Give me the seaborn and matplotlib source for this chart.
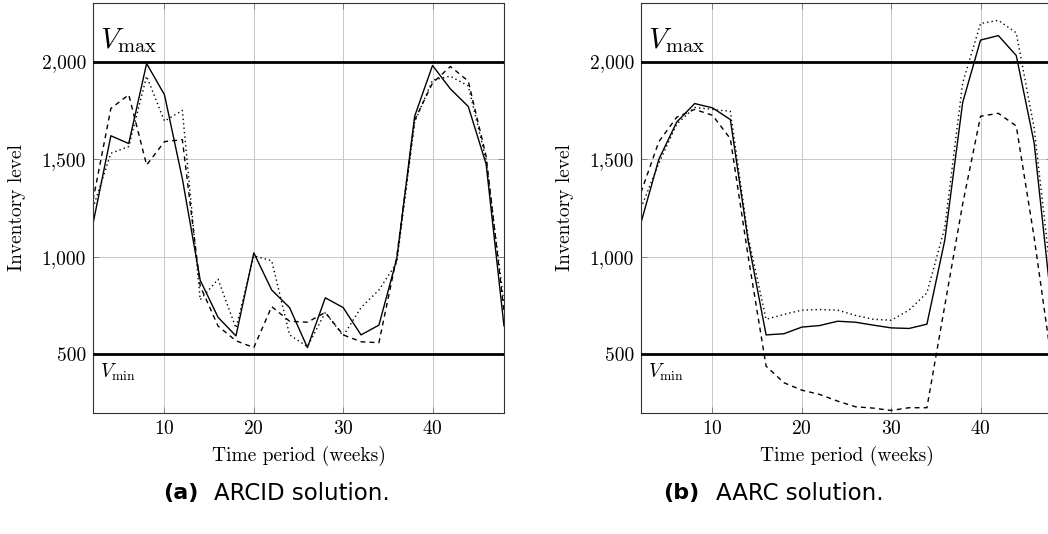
import matplotlib
matplotlib.use('Agg')
import matplotlib.pyplot as plt
import numpy as np
import pandas as pd
import seaborn as sns
from matplotlib.ticker import StrMethodFormatter

weeks = list(range(2, 49, 2))

# (a) ARCID solution
arcid_solid = [1170, 1620, 1580, 1990, 1830, 1400, 880, 690, 595, 1020, 830, 740,
               535, 790, 740, 600, 650, 990, 1720, 1980, 1860, 1770, 1475, 645]
arcid_dashed = [1290, 1760, 1830, 1470, 1590, 1600, 850, 645, 570, 535, 745, 670,
                665, 715, 600, 565, 560, 1000, 1700, 1890, 1975, 1900, 1515, 720]
arcid_dotted = [1250, 1530, 1565, 1925, 1695, 1750, 780, 885, 635, 1005, 980, 600,
                540, 715, 595, 740, 830, 970, 1690, 1905, 1925, 1875, 1495, 760]

# (b) AARC solution
aarc_solid = [1175, 1500, 1690, 1785, 1763, 1703, 1080, 600, 606, 640, 648, 670,
              665, 650, 636, 633, 655, 1085, 1790, 2110, 2133, 2031, 1584, 730]
aarc_dashed = [1330, 1590, 1715, 1755, 1725, 1605, 1000, 440, 355, 317, 295, 261,
               232, 225, 213, 227, 227, 750, 1270, 1720, 1735, 1670, 1100, 450]
aarc_dotted = [1250, 1480, 1680, 1765, 1755, 1745, 1100, 680, 705, 727, 730, 727,
               700, 680, 675, 727, 815, 1150, 1890, 2195, 2211, 2147, 1660, 850]

v_max = 2000
v_min = 500
y_ticks = [500, 1000, 1500, 2000]
x_ticks = [10, 20, 30, 40]

sns.set_style('ticks')
plt.rcParams['font.family'] = ['cmr10', 'DejaVu Serif']
plt.rcParams['mathtext.fontset'] = 'cm'
plt.rcParams['axes.formatter.use_mathtext'] = True
plt.rcParams['text.color'] = 'black'
plt.rcParams['axes.labelcolor'] = 'black'

fig = plt.figure(figsize=(10.48, 5.34), dpi=100)
ax_a = fig.add_axes([93 / 1048, 1 - 413 / 534, 411 / 1048, 410 / 534])
ax_b = fig.add_axes([641 / 1048, 1 - 413 / 534, 411 / 1048, 410 / 534])

styles = ['-', (0, (3.5, 3)), (0, (1, 2.2))]

def draw(ax, series):
    for vals, ls in zip(series, styles):
        sns.lineplot(x=weeks, y=vals, color='black', linestyle=ls, linewidth=1.0, ax=ax)
    ax.axhline(v_max, color='black', linewidth=2.0, zorder=3)
    ax.axhline(v_min, color='black', linewidth=2.0, zorder=3)
    ax.set_xlim(2, 48)
    ax.set_ylim(200, 2300)
    ax.set_xticks(x_ticks)
    ax.set_yticks(y_ticks)
    ax.yaxis.set_major_formatter(StrMethodFormatter('{x:,.0f}'))
    ax.grid(True, color='#c8c8c8', linewidth=0.7)
    ax.tick_params(direction='in', length=4, width=0.6, labelsize=14, pad=5,
                   top=True, right=True, color='#777777', labelcolor='black')
    for s in ax.spines.values():
        s.set_linewidth(0.8)
        s.set_color('#333333')
    ax.set_xlabel('Time period (weeks)', fontsize=14, labelpad=6)
    ax.set_ylabel('Inventory level', fontsize=14, labelpad=11)
    ax.text(2.8, 2035, r'$V_{\max}$', fontsize=21, va='bottom', ha='left')
    ax.text(2.8, 462, r'$V_{\min}$', fontsize=14, va='top', ha='left')

draw(ax_a, [arcid_solid, arcid_dashed, arcid_dotted])
draw(ax_b, [aarc_solid, aarc_dashed, aarc_dotted])

cap_y = 1 - 493 / 534
fig.text(163 / 1048, cap_y, '(a)', family='DejaVu Sans', weight='bold', fontsize=16, va='center')
fig.text(214 / 1048, cap_y, 'ARCID solution.', family='DejaVu Sans', fontsize=16.5, va='center')
fig.text(663 / 1048, cap_y, '(b)', family='DejaVu Sans', weight='bold', fontsize=16, va='center')
fig.text(716 / 1048, cap_y, 'AARC solution.', family='DejaVu Sans', fontsize=16.5, va='center')

fig.savefig('out.png', dpi=100)
